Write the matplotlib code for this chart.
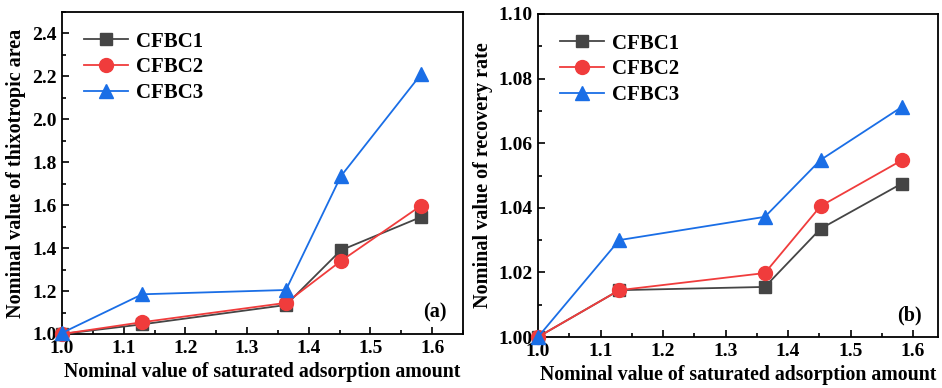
import matplotlib
matplotlib.use("Agg")
import matplotlib.pyplot as plt
from matplotlib.ticker import MultipleLocator

plt.rcParams['font.family'] = ['Liberation Serif', 'DejaVu Serif']
plt.rcParams['font.weight'] = 'bold'
plt.rcParams['axes.labelweight'] = 'bold'

adsorption = [1.0, 1.13, 1.363, 1.452, 1.582]
series_names = ["CFBC1", "CFBC2", "CFBC3"]

thixo_cfbc1 = [1.0, 1.045, 1.135, 1.39, 1.545]
thixo_cfbc2 = [1.0, 1.055, 1.145, 1.34, 1.598]
thixo_cfbc3 = [1.005, 1.185, 1.205, 1.735, 2.21]

recov_cfbc1 = [1.0, 1.0145, 1.0155, 1.0335, 1.0475]
recov_cfbc2 = [1.0, 1.0145, 1.0198, 1.0405, 1.0547]
recov_cfbc3 = [1.0, 1.0300, 1.0372, 1.0548, 1.0712]

colors = ["#454545", "#f03c3c", "#1a6ee6"]
markers = ["s", "o", "^"]

fig = plt.figure(figsize=(9.42, 3.88), dpi=100)
ax1 = fig.add_axes([62/942, 1-334/388, 401/942, 322/388])
ax2 = fig.add_axes([538/942, 1-337/388, 400/942, 323/388])


def draw(ax, data, ylim, ymaj, ymin, ylabel, tag, yfmt):
    for vals, c, m, n in zip(data, colors, markers, series_names):
        ax.plot(adsorption, vals, color=c, marker=m, markersize=10 if m != "s" else 9,
                linewidth=1.3, label=n, clip_on=False, zorder=3)
    ax.set_xlim(1.0, 1.65)
    ax.set_ylim(*ylim)
    ax.xaxis.set_major_locator(MultipleLocator(0.1))
    ax.xaxis.set_minor_locator(MultipleLocator(0.05))
    ax.yaxis.set_major_locator(MultipleLocator(ymaj))
    ax.yaxis.set_minor_locator(MultipleLocator(ymin))
    ax.yaxis.set_major_formatter(yfmt)
    ax.tick_params(which='both', direction='in', top=False, right=False,
                   labelsize=14, width=1.2)
    ax.tick_params(which='major', length=5, pad=4)
    ax.tick_params(which='minor', length=3)
    for lab in ax.get_xticklabels() + ax.get_yticklabels():
        lab.set_fontweight('bold')
    for s in ax.spines.values():
        s.set_linewidth(1.3)
    ax.set_xlabel("Nominal value of saturated adsorption amount", fontsize=14.3,
                  fontweight='bold', labelpad=4)
    ax.set_ylabel(ylabel, fontsize=14.5, fontweight='bold', labelpad=4)
    ax.text(0.96, 0.035, tag, transform=ax.transAxes, ha='right', va='bottom',
            fontsize=14.5, fontweight='bold')
    leg = ax.legend(loc='upper left', frameon=False, fontsize=15,
                    handlelength=2.1, handletextpad=0.4, labelspacing=0.28,
                    bbox_to_anchor=(0.035, 0.965), borderaxespad=0)
    for t in leg.get_texts():
        t.set_fontweight('bold')


draw(ax1, [thixo_cfbc1, thixo_cfbc2, thixo_cfbc3], (1.0, 2.5), 0.2, 0.1,
     "Nominal value of thixotropic area", "(a)", "{x:.1f}")
draw(ax2, [recov_cfbc1, recov_cfbc2, recov_cfbc3], (1.0, 1.10), 0.02, 0.01,
     "Nominal value of recovery rate", "(b)", "{x:.2f}")
ax2.set_xlim(1.0, 1.64)

fig.savefig("out.png", dpi=100)
